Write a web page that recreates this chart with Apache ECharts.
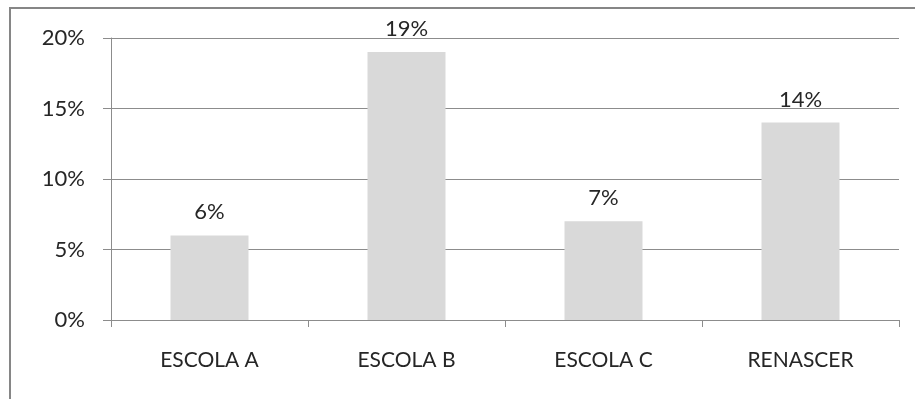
<!DOCTYPE html>
<html>
<head>
<meta charset="utf-8">
<script src="https://cdn.jsdelivr.net/npm/echarts@6/dist/echarts.min.js"></script>
<style>
  html, body { margin: 0; padding: 0; background: #fff; }
  #chart { width: 915px; height: 399px; }
</style>
</head>
<body>
<div id="chart"></div>
<script>
const categories = ['ESCOLA A', 'ESCOLA B', 'ESCOLA C', 'RENASCER'];
const values = [6, 19, 7, 14];
const yTicks = [0, 5, 10, 15, 20];

const FONT = 'Lato, "Open Sans", sans-serif';
const TEXT = '#262626';
const LINE = '#8c8c8c';

const chart = echarts.init(document.getElementById('chart'));
chart.setOption({
  animation: false,
  grid: { left: 111, right: 16, top: 38, bottom: 79, containLabel: false },
  graphic: [{
    type: 'rect',
    shape: { x: 10, y: 8, width: 920, height: 420 },
    style: { fill: 'none', stroke: '#868686', lineWidth: 2 },
    silent: true
  }],
  xAxis: {
    type: 'category',
    data: categories,
    axisLine: { lineStyle: { color: LINE, width: 1 } },
    axisTick: { show: true, alignWithLabel: false, length: 7, lineStyle: { color: LINE } },
    axisLabel: { color: TEXT, fontFamily: FONT, fontSize: 21, margin: 30 }
  },
  yAxis: {
    type: 'value',
    min: yTicks[0],
    max: yTicks[yTicks.length - 1],
    interval: 5,
    axisLine: { show: true, lineStyle: { color: LINE, width: 1 } },
    axisTick: { show: true, length: 8, lineStyle: { color: LINE } },
    splitLine: { lineStyle: { color: LINE, width: 1 } },
    axisLabel: { color: TEXT, fontFamily: FONT, fontSize: 22, margin: 26, formatter: '{value}%' }
  },
  series: [{
    type: 'bar',
    data: values,
    barWidth: 78,
    itemStyle: { color: '#d9d9d9' },
    label: {
      show: true,
      position: 'top',
      distance: 12,
      color: TEXT,
      fontFamily: FONT,
      fontSize: 22,
      formatter: '{c}%'
    }
  }]
});
</script>
</body>
</html>
